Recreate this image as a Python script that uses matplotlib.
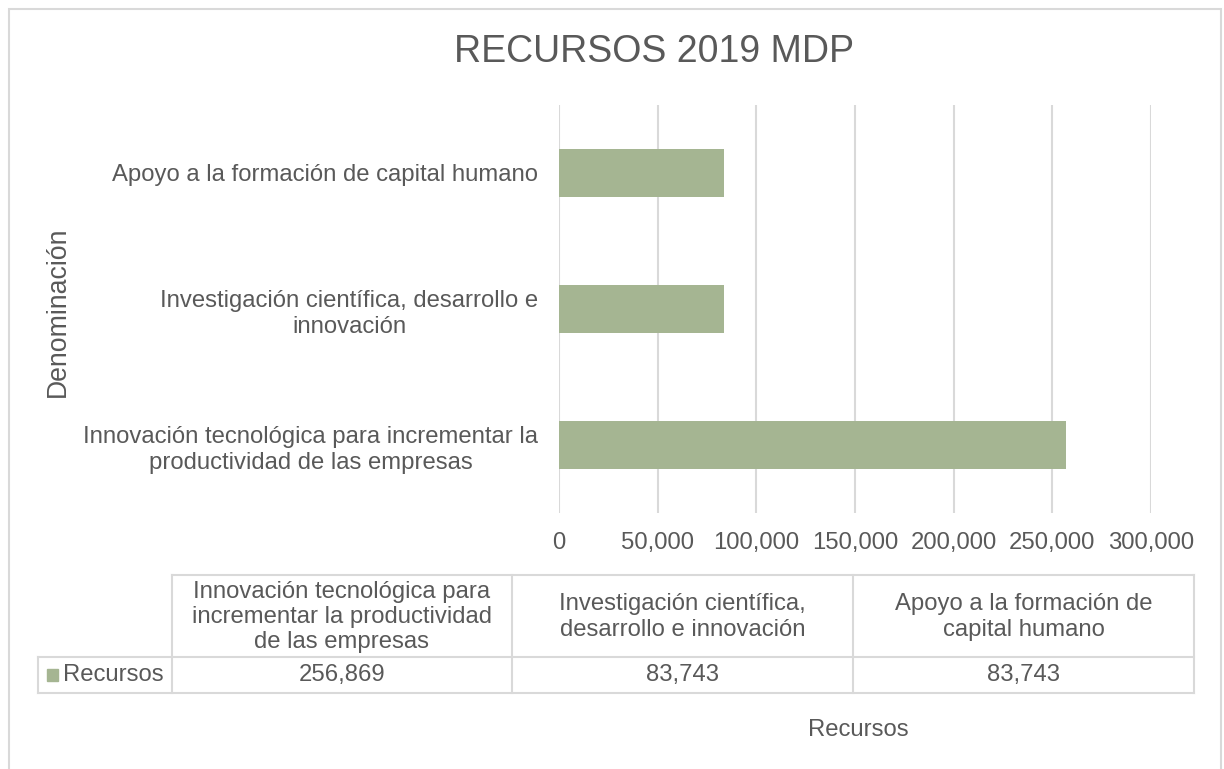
import matplotlib
matplotlib.use("Agg")
import matplotlib.pyplot as plt
from matplotlib.patches import Rectangle
from matplotlib.lines import Line2D

# ---- data ----
categories = [
    "Innovación tecnológica para incrementar la\nproductividad de las empresas",
    "Investigación científica, desarrollo e\ninnovación",
    "Apoyo a la formación de capital humano",
]
table_headers = [
    "Innovación tecnológica para\nincrementar la productividad\nde las empresas",
    "Investigación científica,\ndesarrollo e innovación",
    "Apoyo a la formación de\ncapital humano",
]
values = [256869, 83743, 83743]
series_name = "Recursos"
x_ticks = [0, 50000, 100000, 150000, 200000, 250000, 300000]
title = "RECURSOS 2019 MDP"
x_label = "Recursos"
y_label = "Denominación"

# ---- style ----
W, H = 1224, 769
BAR = "#A5B592"
GRID = "#D9D9D9"
TXT = "#595959"
FS = 17.2

plt.rcParams["font.family"] = ["Liberation Sans", "DejaVu Sans"]
fig = plt.figure(figsize=(W / 100, H / 100), dpi=100)


def fx(px):
    return px / W


def fy(py):
    return 1 - py / H


# axes: x 559..1151, y 105..513 (pixels)
ax = fig.add_axes([fx(559), fy(513), fx(1151) - fx(559), fy(105) - fy(513)])
ypos = list(range(len(categories)))
ax.barh(ypos, values, height=0.36, color=BAR, zorder=3)
ax.set_xlim(0, 300000)
ax.set_ylim(-0.5, len(categories) - 0.5)
ax.set_xticks(x_ticks)
ax.set_xticklabels([f"{t:,}" for t in x_ticks], fontsize=FS, color=TXT)
ax.set_yticks(ypos)
ax.set_yticklabels(categories, fontsize=FS, color=TXT, ha="right",
                   multialignment="center", linespacing=1.25)
ax.tick_params(axis="y", length=0, pad=15)
ax.tick_params(axis="x", length=0, pad=14)
ax.grid(axis="x", color=GRID, linewidth=1.5, zorder=0)
for s in ax.spines.values():
    s.set_visible(False)

# title and axis labels
fig.text(fx(654), fy(52), title, ha="center", va="center", fontsize=27, color=TXT)
fig.text(fx(58), fy(312), y_label, ha="center", va="center", rotation=90,
         fontsize=19.2, color=TXT)
fig.text(fx(858), fy(730), x_label, ha="center", va="center", fontsize=FS, color=TXT)

# data table
cols = [172, 512, 853, 1194]
rows = [575, 657, 693]
lab_left = 38


def hline(x0, x1, y):
    fig.add_artist(Line2D([fx(x0), fx(x1)], [fy(y), fy(y)], color=GRID, lw=1.5,
                          transform=fig.transFigure))


def vline(x, y0, y1):
    fig.add_artist(Line2D([fx(x), fx(x)], [fy(y0), fy(y1)], color=GRID, lw=1.5,
                          transform=fig.transFigure))


hline(cols[0], cols[-1], rows[0])
hline(lab_left, cols[-1], rows[1])
hline(lab_left, cols[-1], rows[2])
for c in cols:
    vline(c, rows[0], rows[2])
vline(lab_left, rows[1], rows[2])

for i, (hdr, v) in enumerate(zip(table_headers, values)):
    cx = (cols[i] + cols[i + 1]) / 2
    fig.text(fx(cx), fy((rows[0] + rows[1]) / 2 + 1), hdr, ha="center", va="center",
             multialignment="center", fontsize=FS, color=TXT, linespacing=1.2)
    fig.text(fx(cx), fy((rows[1] + rows[2]) / 2), f"{v:,}", ha="center",
             va="center", fontsize=FS, color=TXT)

fig.add_artist(Rectangle((fx(47), fy(681)), fx(11), fy(669) - fy(681),
                         transform=fig.transFigure, color=BAR))
fig.text(fx(63), fy(675), series_name, ha="left", va="center", fontsize=FS, color=TXT)

# outer chart border
fig.add_artist(Rectangle((fx(9), fy(780)), fx(1221) - fx(9), fy(9) - fy(780),
                         transform=fig.transFigure, fill=False, edgecolor=GRID,
                         lw=1.5))

fig.savefig("out.png", dpi=100, facecolor="white")
